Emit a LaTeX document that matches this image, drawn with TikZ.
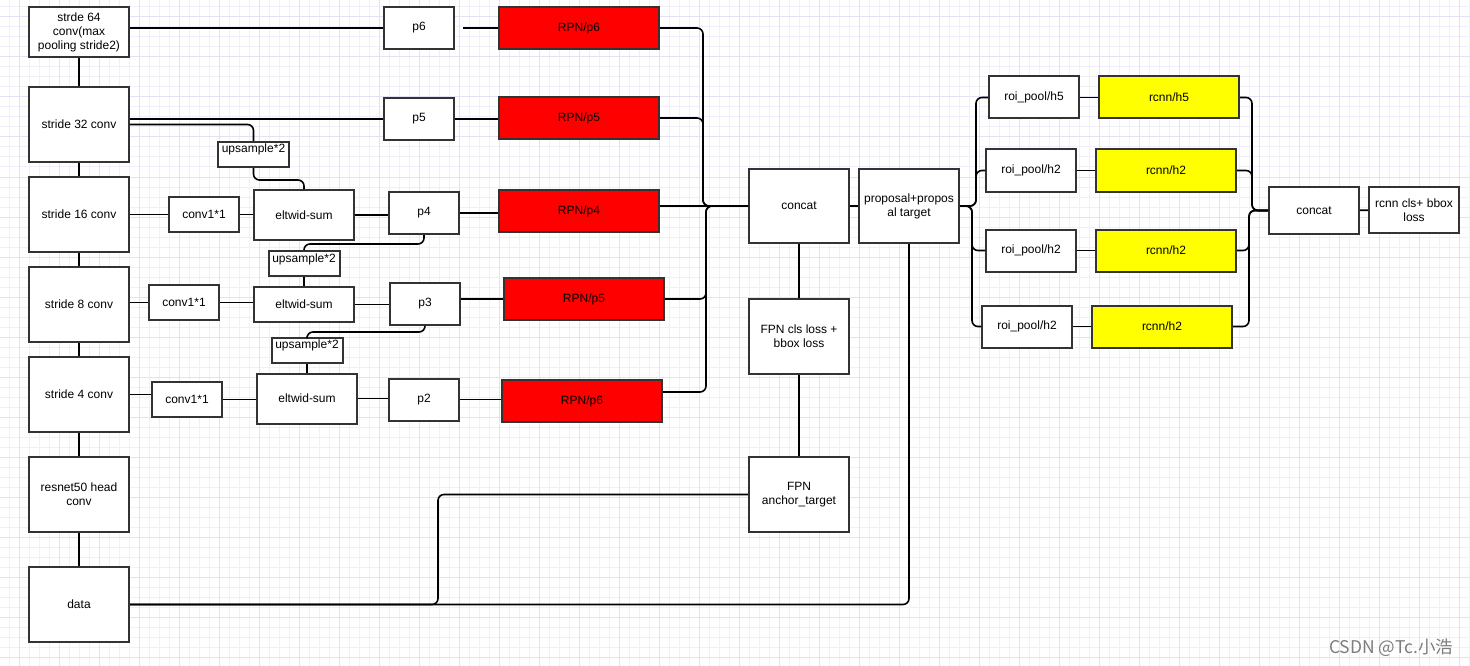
\documentclass[tikz,border=0pt]{standalone}
\usepackage{fontspec}
\setmainfont{Liberation Sans}
\newfontfamily\cjk{Noto Sans CJK SC}
\tikzset{>=latex}
\definecolor{boxline}{RGB}{51,51,51}
\definecolor{gridminor}{RGB}{241,240,250}
\definecolor{gridmajor}{RGB}{228,225,247}
\definecolor{rpnred}{RGB}{255,0,0}
\definecolor{rcnnyellow}{RGB}{255,255,0}
\definecolor{markgray}{RGB}{125,125,125}
\tikzstyle{block}=[draw=boxline,line width=2pt,fill=white,inner sep=0pt,align=center,font=\fontsize{12}{14}\selectfont]
\tikzstyle{stage}=[block,minimum width=100pt,minimum height=75pt]
\tikzstyle{pbox}=[block,minimum width=70pt,minimum height=42pt]
\tikzstyle{convbox}=[block,minimum width=70pt,minimum height=35pt]
\tikzstyle{sumbox}=[block,minimum width=100pt,minimum height=50pt]
\tikzstyle{upbox}=[block,minimum width=71pt,minimum height=25pt,text height=9pt,text depth=12pt]
\tikzstyle{rpn}=[block,fill=rpnred,minimum width=160pt,minimum height=42pt]
\tikzstyle{roibox}=[block,minimum width=90pt,minimum height=42pt]
\tikzstyle{rcnn}=[block,fill=rcnnyellow,minimum width=140pt,minimum height=42pt]
\tikzstyle{link}=[draw=black,line width=1.6pt,rounded corners=6pt]

\begin{document}
\begin{tikzpicture}[x=1pt,y=-1pt]
		\useasboundingbox (0,0) rectangle (1470,666);
		\fill[white] (0,0) rectangle (1470,666);
		\foreach \gx in {9,19,...,1469} \draw[gridminor,line width=1pt] (\gx,0) -- (\gx,666);
		\foreach \gy in {7,17,...,657} \draw[gridminor,line width=1pt] (0,\gy) -- (1470,\gy);
		\foreach \gx in {19,59,...,1459} \draw[gridmajor,line width=1pt] (\gx,0) -- (\gx,666);
		\foreach \gy in {17,57,...,657} \draw[gridmajor,line width=1pt] (0,\gy) -- (1470,\gy);

		% backbone
		\node[stage,minimum height=50pt] (s64) at (79,32) {strde 64\\conv(max\\pooling stride2)};
		\node[stage] (s32) at (79,124.5) {stride 32 conv};
		\node[stage] (s16) at (79,214.5) {stride 16 conv};
		\node[stage] (s8) at (79,304.5) {stride 8 conv};
		\node[stage] (s4) at (79,394.5) {stride 4 conv};
		\node[stage] (res) at (79,494.5) {resnet50 head\\conv};
		\node[stage] (data) at (79,604.5) {data};

		\node[convbox] (c16) at (204,214.5) {conv1*1};
		\node[convbox] (c8) at (184,302.5) {conv1*1};
		\node[convbox] (c4) at (187,399.5) {conv1*1};

		\node[sumbox] (e16) at (304,215) {eltwid-sum};
		\node[sumbox,minimum height=35pt] (e8) at (304,304.5) {eltwid-sum};
		\node[sumbox] (e4) at (307,398.5) {eltwid-sum};

		\node[upbox] (u32) at (253.5,154.5) {upsample*2};
		\node[upbox] (u16) at (304,263.5) {upsample*2};
		\node[upbox] (u8) at (307,350) {upsample*2};

		\node[pbox] (p6) at (419,28) {p6};
		\node[pbox] (p5) at (419,119) {p5};
		\node[pbox] (p4) at (424,213) {p4};
		\node[pbox] (p3) at (425,304) {p3};
		\node[pbox] (p2) at (424,399.5) {p2};

		\node[rpn] (rpn6) at (579,28) {RPN/p6};
		\node[rpn] (rpn5) at (579,118) {RPN/p5};
		\node[rpn] (rpn4) at (579,211) {RPN/p4};
		\node[rpn] (rpn3) at (584,299) {RPN/p5};
		\node[rpn] (rpn2) at (582,401) {RPN/p6};

		\node[stage,minimum height=74pt] (concat) at (799,206) {concat};
		\node[stage,minimum height=74pt] (proposal) at (909,206) {proposal+propos\\al target};
		\node[stage] (fpnloss) at (799,336.5) {FPN cls loss +\\bbox loss};
		\node[stage] (anchor) at (799,494.5) {FPN\\anchor\_target};

		% rcnn heads
		\node[roibox] (roi5) at (1034,97.5) {roi\_pool/h5};
		\node[roibox] (roia) at (1031,170.5) {roi\_pool/h2};
		\node[roibox] (roib) at (1031,250.5) {roi\_pool/h2};
		\node[roibox] (roic) at (1027,326.5) {roi\_pool/h2};
		\node[rcnn] (rc5) at (1169,97.5) {rcnn/h5};
		\node[rcnn] (rca) at (1166,170.5) {rcnn/h2};
		\node[rcnn] (rcb) at (1166,250.5) {rcnn/h2};
		\node[rcnn] (rcc) at (1162,326.5) {rcnn/h2};
		\node[block,minimum width=90pt,minimum height=47pt] (concat2) at (1314,210.5) {concat};
		\node[block,minimum width=90pt,minimum height=46pt] (loss) at (1414,210) {rcnn cls+ bbox\\loss};

		\node[font=\cjk\fontsize{17.5}{18}\selectfont,text=markgray,anchor=east] (mark) at (1457,648) {CSDN @Tc.小浩};

		\coordinate (p6out) at ([xshift=8pt]p6.east);

		\draw[link] (s64.east |- p6.west) -- (p6.west);
		\draw[link] (s32.east |- p5.west) -- (p5.west);
		\draw[link] (s32.east) -| (u32.north);
		\draw[link] (u32.south) -- ++(0,12) -| (e16.north);
		\draw[link] (s16.east) -- (s16.east -| c16.west);
		\draw[link] (c16.east) -- (c16.east -| e16.west);
		\draw[link] (e16.east) -- (e16.east -| p4.west);
		\draw[link] (p4.south) -- ++(0,9) -| (u16.north);
		\draw[link] (u16.south) -- (e8.north);
		\draw[link] (c8.west -| s8.east) -- (c8.west);
		\draw[link] (c8.east) -- (c8.east -| e8.west);
		\draw[link] (e8.east) -- (e8.east -| p3.west);
		\draw[link] (p3.south) -- ++(0,6) -| (u8.north);
		\draw[link] (u8.south) -- (e4.north);
		\draw[link] (s4.east) -- (s4.east -| c4.west);
		\draw[link] (c4.east) -- (c4.east -| e4.west);
		\draw[link] (e4.east) -- (e4.east -| p2.west);
		\draw[link] (s64) -- (s32);
		\draw[link] (s32) -- (s16);
		\draw[link] (s16) -- (s8);
		\draw[link] (s8) -- (s4);
		\draw[link] (s4) -- (res);
		\draw[link] (res) -- (data);

		\draw[link] (p6out) -- (rpn6.west);
		\draw[link] (p5.east) -- (p5.east -| rpn5.west);
		\draw[link] (p4.east) -- (p4.east -| rpn4.west);
		\draw[link] (rpn3.west -| p3.east) -- (rpn3.west);
		\draw[link] (p2.east) -- (p2.east -| rpn2.west);

		\draw[link] (rpn6.east) -| ([xshift=-45pt]concat.west) -- (concat.west);
		\draw[link] (rpn5.east) -| ([xshift=-45pt]concat.west) -- (concat.west);
		\draw[link] (concat.west -| rpn4.east) -- (concat.west);
		\draw[link] (rpn3.east) -| ([xshift=-42pt]concat.west) -- (concat.west);
		\draw[link] ([yshift=9pt]rpn2.east) -| ([xshift=-42pt]concat.west) -- (concat.west);

		\draw[link] (concat.east) -- (proposal.west);
		\draw[link] (concat) -- (fpnloss);
		\draw[link] (fpnloss) -- (anchor);
		\draw[link] (data.east) -- ++(308,0) |- (anchor.west);
		\draw[link] (data.east) -| (proposal.south);

		\draw[link] (proposal.east) -- ([xshift=16pt]proposal.east) |- (roi5.west);
		\draw[link] (proposal.east) -- ([xshift=16pt]proposal.east) |- (roia.west);
		\draw[link] (proposal.east) -- ([xshift=12pt]proposal.east) |- (roib.west);
		\draw[link] (proposal.east) -- ([xshift=12pt]proposal.east) |- (roic.west);
		\draw[link] (roi5) -- (rc5);
		\draw[link] (roia) -- (rca);
		\draw[link] (roib) -- (rcb);
		\draw[link] (roic) -- (rcc);
		\draw[link] (rc5.east) -| ([xshift=-16pt]concat2.west) -- (concat2.west);
		\draw[link] (rca.east) -| ([xshift=-16pt]concat2.west) -- (concat2.west);
		\draw[link] (rcb.east) -| ([xshift=-19pt]concat2.west) -- (concat2.west);
		\draw[link] (rcc.east) -| ([xshift=-19pt]concat2.west) -- (concat2.west);
		\draw[link] (concat2) -- (loss);
	\end{tikzpicture}
\end{document}
